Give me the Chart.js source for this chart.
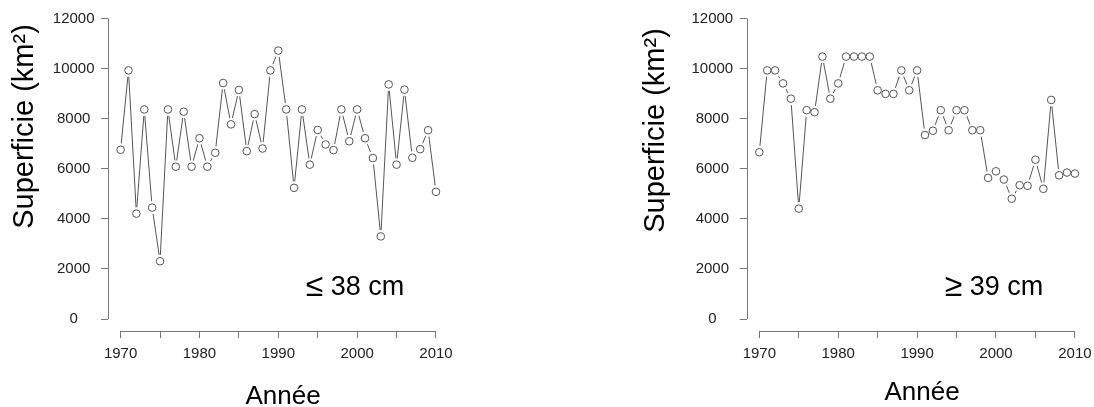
<!DOCTYPE html>
<html><head><meta charset="utf-8">
<script src="https://cdn.jsdelivr.net/npm/chart.js@4/dist/chart.umd.min.js"></script>
<style>
html,body{margin:0;padding:0;background:#fff;}
#wrap{position:relative;width:1094px;height:407px;overflow:hidden;}
.c{position:absolute;top:0;height:407px;}
</style></head><body>
<div id="wrap">
<div class="c" style="left:0;width:600px"><canvas id="c1"></canvas></div>
<div class="c" style="left:600px;width:494px"><canvas id="c2"></canvas></div>
</div>
<script>
const years = [1970,1971,1972,1973,1974,1975,1976,1977,1978,1979,1980,1981,1982,1983,1984,1985,1986,1987,1988,1989,1990,1991,1992,1993,1994,1995,1996,1997,1998,1999,2000,2001,2002,2003,2004,2005,2006,2007,2008,2009,2010];
const smallFish = [6760,9930,4210,8370,4450,2310,8370,6085,8280,6085,7220,6085,6640,9425,7775,9150,6705,8185,6810,9930,10720,8370,5240,8370,6165,7550,6970,6745,8370,7100,8370,7220,6430,3300,9370,6165,9160,6440,6785,7540,5080];
const largeFish = [6660,9930,9930,9410,8800,4410,8340,8260,10480,8800,9410,10480,10480,10480,10480,9135,8990,8990,9930,9135,9930,7350,7520,8340,7540,8340,8340,7540,7540,5635,5900,5570,4805,5345,5320,6360,5200,8750,5740,5850,5810];
const xTicks = [1970,1975,1980,1985,1990,1995,2000,2005,2010];
const xLabelTicks = [1970,1980,1990,2000,2010];
const yTicks = [0,2000,4000,6000,8000,10000,12000];
const yTitle = 'Superficie (km²)';
const xTitle = 'Année';
const panelSymbols = ['\u2264', '\u2265'];
const panelTexts = [' 38 cm', ' 39 cm'];

const FONT = '"Liberation Sans", Arial, Helvetica, sans-serif';

function makeChart(id, values, L) {
  const pts = years.map((y, i) => ({x: y, y: values[i]}));
  const deco = {
    id: 'deco',
    afterDraw(chart) {
      const ctx = chart.ctx, xs = chart.scales.x, ys = chart.scales.y, ca = chart.chartArea;
      ctx.save();
      ctx.strokeStyle = '#777';
      ctx.lineWidth = 1;
      ctx.beginPath();
      const ax = Math.round(ca.left) + 0.5;
      ctx.moveTo(ax, ys.getPixelForValue(yTicks[0]));
      ctx.lineTo(ax, ys.getPixelForValue(yTicks[yTicks.length - 1]));
      const ay = Math.round(ca.bottom) + 0.5;
      ctx.moveTo(xs.getPixelForValue(xTicks[0]), ay);
      ctx.lineTo(xs.getPixelForValue(xTicks[xTicks.length - 1]), ay);
      ctx.stroke();
      ctx.fillStyle = '#000';
      // y title
      ctx.save();
      ctx.translate(L.yTitleX, L.yTitleY);
      ctx.rotate(-Math.PI / 2);
      ctx.font = '29px ' + FONT;
      ctx.textAlign = 'center';
      ctx.textBaseline = 'alphabetic';
      ctx.fillText(yTitle, 0, 0);
      ctx.restore();
      // x title
      ctx.font = '26px ' + FONT;
      ctx.textAlign = 'center';
      ctx.textBaseline = 'alphabetic';
      ctx.fillText(xTitle, L.xTitleX, L.xTitleY);
      // panel label: symbol + text, centred as a whole
      ctx.textAlign = 'left';
      ctx.font = '32px ' + FONT;
      const w1 = ctx.measureText(L.sym).width;
      ctx.font = '27px ' + FONT;
      const w2 = ctx.measureText(L.txt).width;
      const x0 = L.labelX - (w1 + w2) / 2;
      ctx.font = '32px ' + FONT;
      ctx.fillText(L.sym, x0, L.labelY + 1);
      ctx.font = '27px ' + FONT;
      ctx.fillText(L.txt, x0 + w1, L.labelY);
      ctx.restore();
    }
  };
  return new Chart(document.getElementById(id), {
    type: 'line',
    data: {
      datasets: [
        {
          data: pts, showLine: false,
          pointRadius: 3.8, pointBorderWidth: 1, pointBorderColor: '#555', pointBackgroundColor: '#fff',
          pointHoverRadius: 3.8
        },
        {
          data: pts, borderColor: '#555', borderWidth: 1, tension: 0,
          pointRadius: 6.5, pointBorderWidth: 0, pointBackgroundColor: '#fff', pointBorderColor: '#fff',
          pointHoverRadius: 6.5
        }
      ]
    },
    options: {
      responsive: true, maintainAspectRatio: false, animation: false,
      events: [],
      layout: { padding: { left: 0, top: L.top, right: L.right, bottom: L.bottom } },
      plugins: { legend: { display: false }, tooltip: { enabled: false } },
      scales: {
        x: {
          type: 'linear', min: 1968.4, max: 2011.6,
          afterBuildTicks: s => { s.ticks = xTicks.map(v => ({value: v})); },
          afterFit: s => { s.height = L.xHeight; s.paddingLeft = 0; s.paddingRight = 0; },
          grid: { display: true, drawOnChartArea: false, drawTicks: true, tickLength: 7, tickColor: '#777', tickWidth: 1 },
          border: { display: false },
          ticks: {
            autoSkip: false, maxRotation: 0, padding: 7, color: '#222',
            font: { family: FONT, size: 15 },
            callback: v => xLabelTicks.includes(v) ? String(v) : ''
          }
        },
        y: {
          type: 'linear', min: -480, max: 12480,
          afterBuildTicks: s => { s.ticks = yTicks.map(v => ({value: v})); },
          afterFit: s => { s.width = L.yWidth; s.paddingTop = 0; s.paddingBottom = 0; },
          grid: { display: true, drawOnChartArea: false, drawTicks: true, tickLength: 7, tickColor: '#777', tickWidth: 1 },
          border: { display: false },
          ticks: {
            padding: 6.5, crossAlign: 'center', color: '#222',
            font: { family: FONT, size: 15 },
            callback: v => String(v)
          }
        }
      }
    },
    plugins: [deco]
  });
}

makeChart('c1', smallFish, {
  top: 3.9, right: 600 - 448.6, bottom: 407 - 331.1 - 40, xHeight: 40, yWidth: 108,
  yTitleX: 33, yTitleY: 126.5, xTitleX: 283, xTitleY: 404,
  sym: panelSymbols[0], txt: panelTexts[0], labelX: 355, labelY: 295
});
makeChart('c2', largeFish, {
  top: 3.9, right: 494 - 488.7, bottom: 407 - 331.1 - 40, xHeight: 40, yWidth: 146.7,
  yTitleX: 64, yTitleY: 130.5, xTitleX: 322, xTitleY: 400,
  sym: panelSymbols[1], txt: panelTexts[1], labelX: 394, labelY: 295
});
</script>
</body></html>
